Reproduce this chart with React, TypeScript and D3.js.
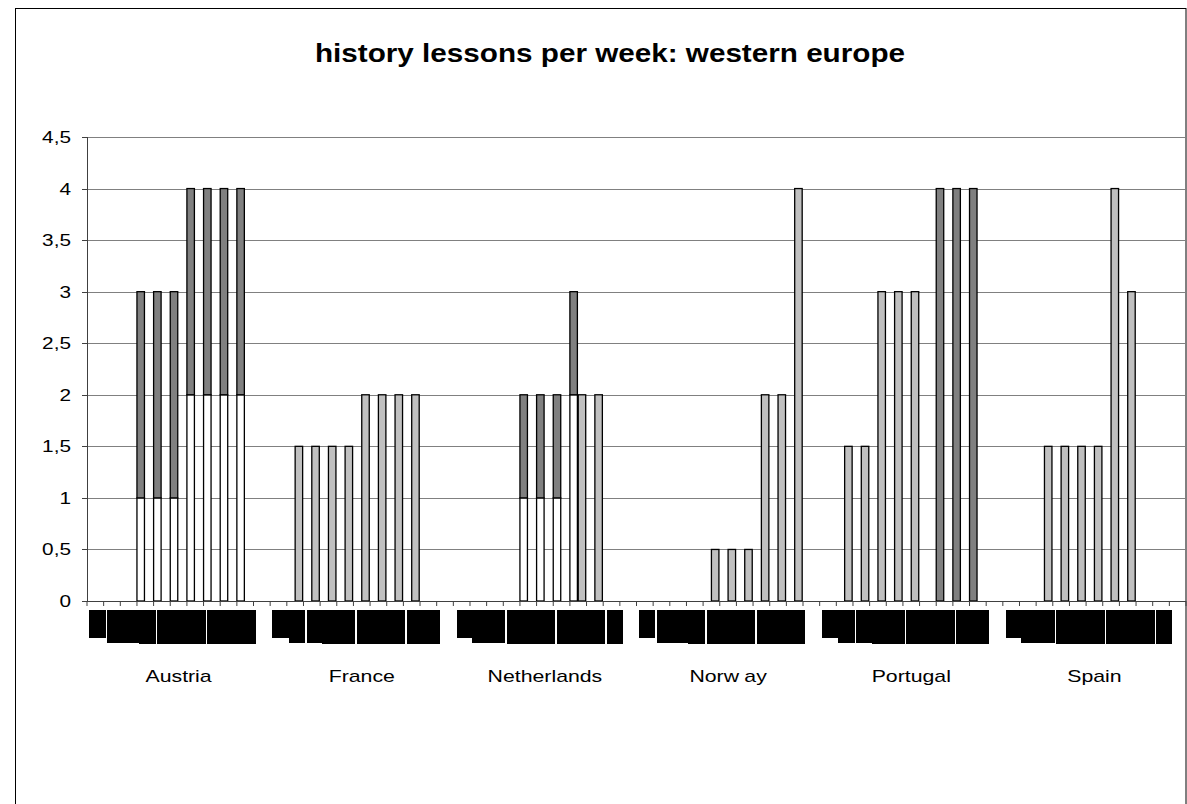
import React from "react";
import * as d3 from "d3";

// ---- data ----
const countries = ["Austria", "France", "Netherlands", "Norway", "Portugal", "Spain"];
const levels = ["1", "2", "3", "4", "5", "6", "7", "8", "9", "10", "11"];

// white (bottom of stack)
const seriesLower: number[][] = [
  [0, 0, 0, 1, 1, 1, 2, 2, 2, 2, 0],
  [0, 0, 0, 0, 0, 0, 0, 0, 0, 0, 0],
  [0, 0, 0, 0, 1, 1, 1, 2, 0, 0, 0],
  [0, 0, 0, 0, 0, 0, 0, 0, 0, 0, 0],
  [0, 0, 0, 0, 0, 0, 0, 0, 0, 0, 0],
  [0, 0, 0, 0, 0, 0, 0, 0, 0, 0, 0],
];
// dark grey (top of stack)
const seriesUpper: number[][] = [
  [0, 0, 0, 2, 2, 2, 2, 2, 2, 2, 0],
  [0, 0, 0, 0, 0, 0, 0, 0, 0, 0, 0],
  [0, 0, 0, 0, 1, 1, 1, 1, 0, 0, 0],
  [0, 0, 0, 0, 0, 0, 0, 0, 0, 0, 0],
  [0, 0, 0, 0, 0, 0, 0, 4, 4, 4, 0],
  [0, 0, 0, 0, 0, 0, 0, 0, 0, 0, 0],
];
// light grey (beside the stack)
const seriesSide: number[][] = [
  [0, 0, 0, 0, 0, 0, 0, 0, 0, 0, 0],
  [0, 1.5, 1.5, 1.5, 1.5, 2, 2, 2, 2, 0, 0],
  [0, 0, 0, 0, 0, 0, 0, 2, 2, 0, 0],
  [0, 0, 0, 0, 0.5, 0.5, 0.5, 2, 2, 4, 0],
  [0, 1.5, 1.5, 3, 3, 3, 0, 0, 0, 0, 0],
  [0, 0, 1.5, 1.5, 1.5, 1.5, 4, 3, 0, 0, 0],
];
const yTicks = [0, 0.5, 1, 1.5, 2, 2.5, 3, 3.5, 4, 4.5];
const title = "history lessons per week: western europe";

const FONT = "'Liberation Sans', Arial, sans-serif";

export default function App() {
  const left = 87;
  const right = 1186;
  const top = 137;
  const bottom = 601;

  const keys: string[] = [];
  countries.forEach((c) => levels.forEach((l) => keys.push(c + "|" + l)));

  const x = d3.scaleBand<string>().domain(keys).range([left, right]).padding(0);
  const y = d3.scaleLinear().domain([0, 4.5]).range([bottom, top]);
  const w = x.bandwidth();
  const bw = w * 0.45;

  const fmt = (v: number) => String(v).replace(".", ",");

  const bars: React.ReactNode[] = [];
  const labels: React.ReactNode[] = [];
  countries.forEach((c, ci) => {
    levels.forEach((l, li) => {
      const k = c + "|" + l;
      const x0 = x(k)!;
      const lo = seriesLower[ci][li];
      const up = seriesUpper[ci][li];
      const sd = seriesSide[ci][li];
      if (lo > 0) {
        bars.push(
          <rect key={k + "lo"} x={x0} y={y(lo)} width={bw} height={y(0) - y(lo)}
            fill="#ffffff" stroke="#000" strokeWidth={1.3} />
        );
      }
      if (up > 0) {
        bars.push(
          <rect key={k + "up"} x={x0} y={y(lo + up)} width={bw} height={y(lo) - y(lo + up)}
            fill="#808080" stroke="#000" strokeWidth={1.3} />
        );
      }
      if (sd > 0) {
        bars.push(
          <rect key={k + "sd"} x={x0 + w / 2} y={y(sd)} width={bw} height={y(0) - y(sd)}
            fill="#c0c0c0" stroke="#000" strokeWidth={1.3} />
        );
      }
      // illegible (overlapping) category labels rendered as black blocks
      if (li < levels.length - 1) {
        const gi = ci * levels.length + li;
        const lx = Math.round(x0 + 2 + (gi % 3 === 1 ? 1.5 : 0));
        const rx = Math.round(x0 + w + 2) + (gi % 3 === 0 ? 0 : 1);
        const by = li === 0 ? 638 : li <= 2 ? 643 : 644;
        labels.push(<rect key={k + "lb"} x={lx} y={610} width={rx - lx} height={by - 610}
          fill="#000" shapeRendering="crispEdges" />);
      }
    });
  });

  return (
    <svg width={1187} height={804} style={{ position: "absolute", left: 0, top: 0 }}
      fontFamily={FONT}>
      <rect x={0} y={0} width={1187} height={804} fill="#fff" />
      <rect x={15.5} y={8.5} width={1170.5} height={810} fill="#fff" stroke="#000" strokeWidth={1} />
      <text x={315} y={61.7} fontSize={25} fontWeight="bold" textLength={590}
        lengthAdjust="spacingAndGlyphs" fill="#000">{title}</text>

      {yTicks.map((t) => (
        <g key={"g" + t}>
          {t > 0 && <line x1={left} x2={right} y1={Math.round(y(t)) + 0.5} y2={Math.round(y(t)) + 0.5}
            stroke="#808080" strokeWidth={1} />}
          <line x1={left - 5} x2={left} y1={Math.round(y(t)) + 0.5} y2={Math.round(y(t)) + 0.5}
            stroke="#404040" strokeWidth={1} />
          <text transform={`translate(71,${y(t) + 6}) scale(1.3,1)`} textAnchor="end"
            fontSize={16} fill="#000">{fmt(t)}</text>
        </g>
      ))}

      {bars}

      <line x1={left + 0.5} x2={left + 0.5} y1={top} y2={bottom} stroke="#404040" strokeWidth={1} />
      <line x1={left} x2={right} y1={bottom + 0.5} y2={bottom + 0.5} stroke="#404040" strokeWidth={1} />
      {keys.map((k) => (
        <line key={"t" + k} x1={x(k)!} x2={x(k)!} y1={bottom} y2={bottom + 5}
          stroke="#404040" strokeWidth={1} />
      ))}
      <line x1={right} x2={right} y1={bottom} y2={bottom + 5} stroke="#404040" strokeWidth={1} />

      {labels}

      {countries.map((c) => {
        const cx = x(c + "|" + levels[0])! + (w * levels.length) / 2;
        return (
          <text key={"c" + c} transform={`translate(${cx},682) scale(1.33,1)`} textAnchor="middle"
            fontSize={16} fill="#000">
            {c === "Norway" ? (<><tspan>Norw</tspan><tspan dx={4}>ay</tspan></>) : c}
          </text>
        );
      })}
    </svg>
  );
}
